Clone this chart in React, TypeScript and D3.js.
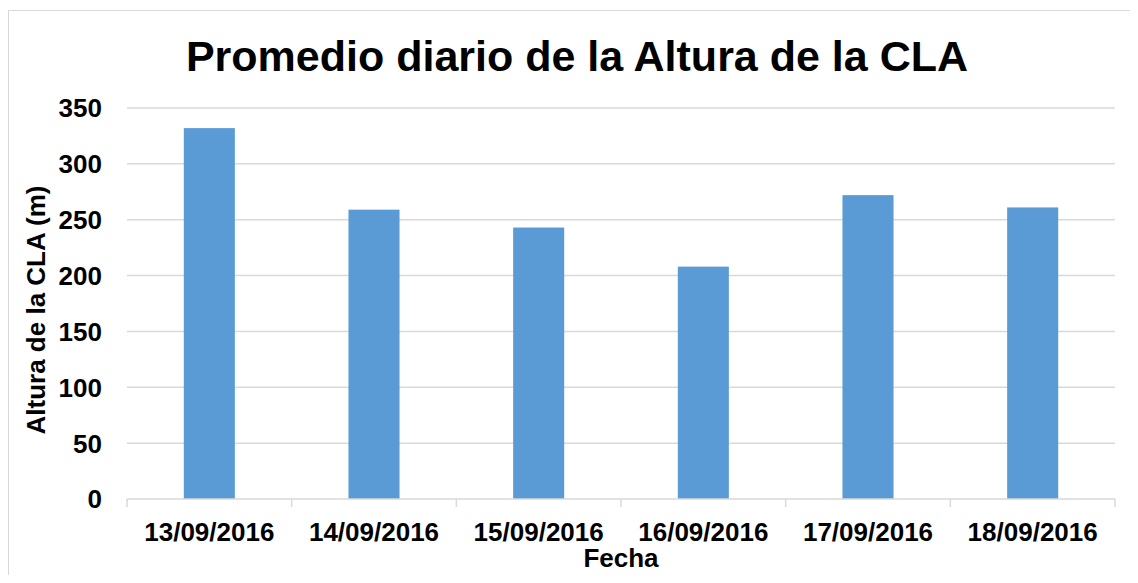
import React, { useEffect, useRef } from 'react'
import * as d3 from 'd3'

const fechas = ['13/09/2016', '14/09/2016', '15/09/2016', '16/09/2016', '17/09/2016', '18/09/2016']
const alturas = [332, 259, 243, 208, 272, 261]
const yTicks = [0, 50, 100, 150, 200, 250, 300, 350]

const App = () => {
  const canvasRef = useRef<HTMLDivElement>(null)

  useEffect(() => {
    drawChart()
  }, [])

  const drawChart = () => {
    const node = canvasRef.current
    if (!node) return
    d3.select(node).selectAll('*').remove()

    const W = 1138
    const H = 583
    const margin = { top: 108, right: 23, bottom: 84, left: 127 }
    const width = W - margin.left - margin.right
    const height = H - margin.top - margin.bottom
    const font = '"Liberation Sans", Arial, sans-serif'

    const svg = d3.select(node).append('svg')
      .attr('width', W)
      .attr('height', H)
      .style('display', 'block')
      .style('font-family', font)

    svg.append('rect')
      .attr('width', W).attr('height', H).attr('fill', '#fff')

    // chart area border (runs off right and bottom)
    svg.append('rect')
      .attr('x', 8.5).attr('y', 10.5)
      .attr('width', W + 10).attr('height', H + 10)
      .attr('fill', 'none').attr('stroke', '#d9d9d9').attr('stroke-width', 1)

    svg.append('text')
      .attr('x', 577).attr('y', 71)
      .attr('text-anchor', 'middle')
      .attr('font-size', 43).attr('font-weight', 'bold')
      .text('Promedio diario de la Altura de la CLA')

    const g = svg.append('g')
      .attr('transform', `translate(${margin.left}, ${margin.top})`)

    const x = d3.scaleBand()
      .domain(fechas)
      .range([0, width])
      .paddingInner(0.69)
      .paddingOuter(0.345)

    const band = d3.scaleBand().domain(fechas).range([0, width])

    const y = d3.scaleLinear()
      .domain([0, 350])
      .range([height, 0])

    g.append('g')
      .selectAll('line')
      .data(yTicks.slice(1))
      .enter().append('line')
      .attr('x1', 0).attr('x2', width)
      .attr('y1', d => y(d)).attr('y2', d => y(d))
      .attr('stroke', '#d9d9d9').attr('stroke-width', 1.5)

    g.append('g')
      .selectAll('rect')
      .data(alturas)
      .enter().append('rect')
      .attr('x', (d, i) => x(fechas[i]) as number)
      .attr('y', d => y(d))
      .attr('width', x.bandwidth())
      .attr('height', d => height - y(d))
      .attr('fill', '#5b9bd5')

    // x axis line and ticks
    g.append('line')
      .attr('x1', 0).attr('x2', width)
      .attr('y1', height).attr('y2', height)
      .attr('stroke', '#d9d9d9').attr('stroke-width', 1.5)

    const bounds = fechas.map(f => band(f) as number).concat([width])
    g.append('g')
      .selectAll('line')
      .data(bounds)
      .enter().append('line')
      .attr('x1', d => d).attr('x2', d => d)
      .attr('y1', height).attr('y2', height + 8)
      .attr('stroke', '#d9d9d9').attr('stroke-width', 1.5)

    g.append('g')
      .selectAll('text')
      .data(fechas)
      .enter().append('text')
      .attr('x', d => (band(d) as number) + band.bandwidth() / 2)
      .attr('y', height + 42)
      .attr('text-anchor', 'middle')
      .attr('font-size', 26).attr('font-weight', 'bold')
      .text(d => d)

    g.append('g')
      .selectAll('text')
      .data(yTicks)
      .enter().append('text')
      .attr('x', -25)
      .attr('y', d => y(d))
      .attr('dy', '0.36em')
      .attr('text-anchor', 'end')
      .attr('font-size', 26).attr('font-weight', 'bold')
      .text(d => d)

    svg.append('text')
      .attr('x', margin.left + width / 2).attr('y', 567)
      .attr('text-anchor', 'middle')
      .attr('font-size', 26).attr('font-weight', 'bold')
      .text('Fecha')

    svg.append('text')
      .attr('transform', `translate(45, 310) rotate(-90)`)
      .attr('text-anchor', 'middle')
      .attr('font-size', 26).attr('font-weight', 'bold')
      .text('Altura de la CLA (m)')
  }

  return (
    <div style={{ margin: -8 }}>
      <div ref={canvasRef}></div>
    </div>
  )
}

export default App
